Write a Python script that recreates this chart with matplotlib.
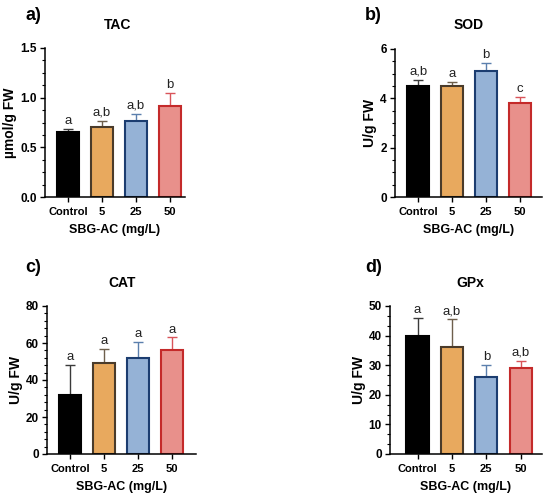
import matplotlib
matplotlib.use("Agg")
import matplotlib.pyplot as plt
from matplotlib.ticker import AutoMinorLocator, MultipleLocator
import numpy as np

plt.rcParams['font.family'] = ['Liberation Sans', 'DejaVu Sans']

categories = ["Control", "5", "25", "50"]

tac_mean = [0.65, 0.70, 0.77, 0.92]
tac_err = [0.03, 0.07, 0.07, 0.13]
tac_letters = ["a", "a,b", "a,b", "b"]

sod_mean = [4.5, 4.5, 5.1, 3.8]
sod_err = [0.25, 0.15, 0.35, 0.27]
sod_letters = ["a,b", "a", "b", "c"]

cat_mean = [32.0, 49.0, 52.0, 56.0]
cat_err = [16.0, 8.0, 8.5, 7.0]
cat_letters = ["a", "a", "a", "a"]

gpx_mean = [40.0, 36.0, 26.0, 29.0]
gpx_err = [6.0, 9.5, 4.0, 2.5]
gpx_letters = ["a", "a,b", "b", "a,b"]

fill_colors = ["#000000", "#E8A95E", "#95B2D6", "#E8908B"]
edge_colors = ["#000000", "#4A3B2A", "#1C3D70", "#C42A2A"]
err_colors = ["#3a3a3a", "#6E5F4C", "#5B7FAD", "#D9545A"]

W, H = 550, 501
fig = plt.figure(figsize=(5.5, 5.01), dpi=100)

def px_axes(left, right, top, bottom):
    return fig.add_axes([left / W, 1 - bottom / H, (right - left) / W, (bottom - top) / H])

panels = [
    dict(box=(45, 185, 48, 197), mean=tac_mean, err=tac_err, letters=tac_letters,
         title="TAC", tag="a)", ylabel="µmol/g FW", ylim=(0, 1.5), major=0.5, minor=4,
         xlim=(-0.68, 3.45), fmt="{:.1f}", title_xy=(118, 25), tag_xy=(33, 15), lab_off=0.02),
    dict(box=(395, 542, 49, 197), mean=sod_mean, err=sod_err, letters=sod_letters,
         title="SOD", tag="b)", ylabel="U/g FW", ylim=(0, 6), major=2, minor=4,
         xlim=(-0.68, 3.65), fmt="{:.0f}", title_xy=(469, 25), tag_xy=(373, 15), lab_off=0.08),
    dict(box=(47, 196, 306, 454), mean=cat_mean, err=cat_err, letters=cat_letters,
         title="CAT", tag="c)", ylabel="U/g FW", ylim=(0, 80), major=20, minor=5,
         xlim=(-0.67, 3.7), fmt="{:.0f}", title_xy=(122, 283), tag_xy=(33, 267), lab_off=1.0),
    dict(box=(390, 542, 306, 454), mean=gpx_mean, err=gpx_err, letters=gpx_letters,
         title="GPx", tag="d)", ylabel="U/g FW", ylim=(0, 50), major=10, minor=3,
         xlim=(-0.8, 3.62), fmt="{:.0f}", title_xy=(470, 283), tag_xy=(374, 267), lab_off=0.6),
]

x = np.arange(len(categories))
for p in panels:
    ax = px_axes(*p["box"])
    ax.bar(x, p["mean"], width=0.65, color=fill_colors, edgecolor=edge_colors,
           linewidth=1.5, zorder=2)
    for i in range(len(x)):
        ax.errorbar(x[i], p["mean"][i], yerr=[[0], [p["err"][i]]], fmt="none",
                    ecolor=err_colors[i], elinewidth=1.0, capsize=3.5, capthick=1.0, zorder=1)
        ax.text(x[i], p["mean"][i] + p["err"][i] + p["lab_off"], p["letters"][i],
                ha="center", va="bottom", fontsize=9.5, color="#222222")
    ax.set_xlim(*p["xlim"])
    ax.set_ylim(*p["ylim"])
    ax.yaxis.set_major_locator(MultipleLocator(p["major"]))
    ax.yaxis.set_minor_locator(AutoMinorLocator(p["minor"]))
    ax.set_yticklabels([p["fmt"].format(v) for v in ax.get_yticks()])
    ax.set_xticks(x)
    ax.set_xticklabels(categories)
    for lab in ax.get_xticklabels():
        lab.set_fontweight("bold")
        lab.set_fontsize(8)
    for lab in ax.get_yticklabels():
        lab.set_fontweight("bold")
        lab.set_fontsize(8.5)
    ax.spines["top"].set_visible(False)
    ax.spines["right"].set_visible(False)
    ax.spines["left"].set_linewidth(1.1)
    ax.spines["bottom"].set_linewidth(1.1)
    ax.tick_params(axis="y", which="major", direction="out", length=3.5, width=1.0, pad=2.5)
    ax.tick_params(axis="x", which="major", direction="out", length=3.5, width=1.0, pad=4)
    ax.tick_params(axis="y", which="minor", direction="out", length=2, width=0.8)
    ax.tick_params(axis="x", which="minor", length=0)
    ax.set_ylabel(p["ylabel"], fontsize=10, fontweight="bold", labelpad=2)
    ax.set_xlabel("SBG-AC (mg/L)", fontsize=9, fontweight="bold", labelpad=5)
    fig.text(p["title_xy"][0] / W, 1 - p["title_xy"][1] / H, p["title"], ha="center", va="center",
             fontsize=10, fontweight="bold")
    fig.text(p["tag_xy"][0] / W, 1 - p["tag_xy"][1] / H, p["tag"], ha="center", va="center",
             fontsize=13, fontweight="bold")

fig.savefig("out.png", dpi=100)
